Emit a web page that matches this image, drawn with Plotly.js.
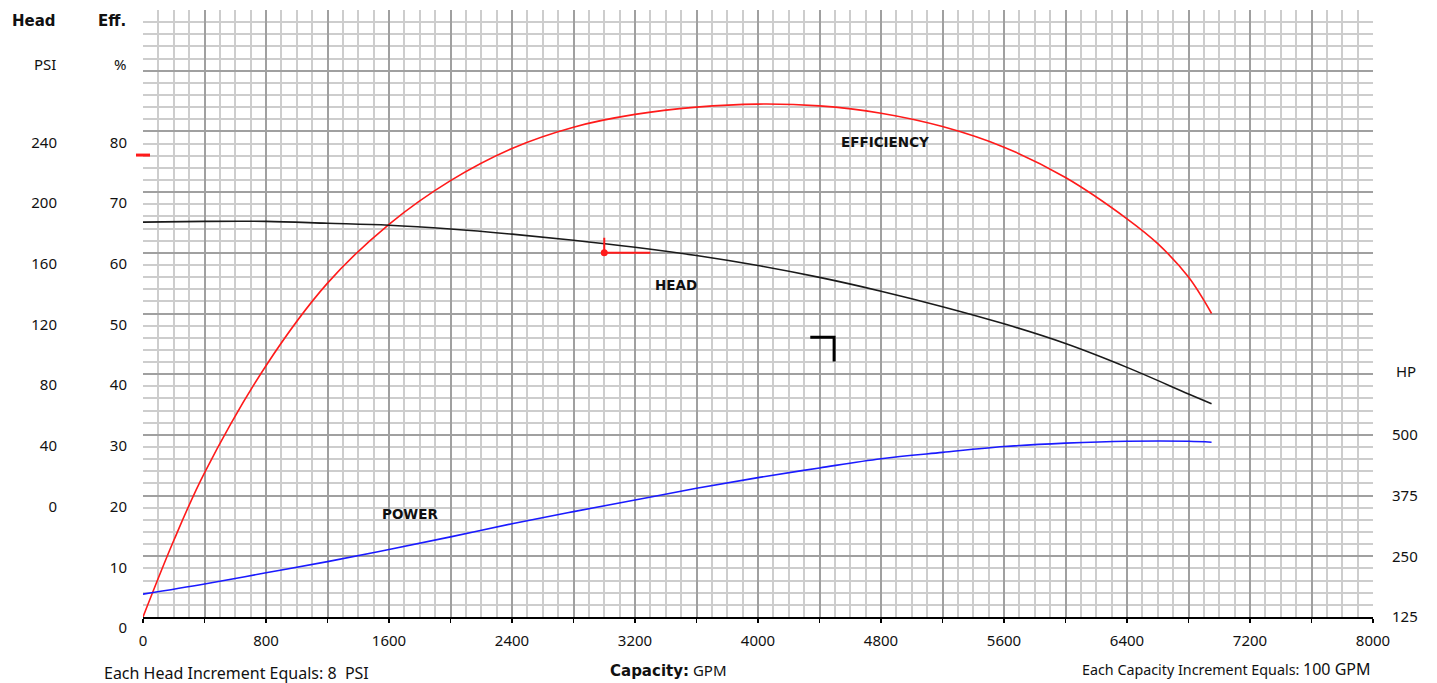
<!DOCTYPE html>
<html><head><meta charset="utf-8">
<script src="https://cdn.plot.ly/plotly-3.0.1.min.js"></script>
<style>html,body{margin:0;padding:0;background:#fff}#chart{width:1437px;height:683px}</style>
</head><body><div id="chart"></div>
<script>
// Efficiency curve (GPM, %)
const effCapacity = [0,200,400,800,1200,1600,2000,2400,2800,3200,3600,4000,4400,4800,5200,5600,6000,6400,6600,6800,6950];
const efficiency  = [0,12.6,23.75,41.4,55,64.7,71.9,77.2,80.7,82.8,84.0,84.5,84.2,83.0,80.8,77.4,72.4,65.6,61.5,56.0,50];
// Head and power curves (GPM, PSI / HP)
const curveCapacity = [0,400,800,1200,1600,2000,2400,2800,3200,3600,4000,4400,4800,5200,5600,6000,6400,6800,6950];
const headPsi  = [180.2,180.7,180.7,179.5,178.2,175.7,172.3,168.3,163.7,158.2,151.6,143.8,134.7,124.5,113.2,100.2,84.5,67,60.5];
const powerHp  = [172,193,216,239,264,290,317,342,366,390,412,432,451,464,476,483,487,487,485];
// Duty point (GPM, PSI) with tolerance lines
const dutyPointGpm = [3000];
const dutyPointPsi = [160];
const dutyLineGpm  = [3300,3000,3000];
const dutyLinePsi  = [160,160,170];
// Black corner mark (GPM, %)
const cornerGpm = [4340,4495,4495];
const cornerEff = [46.1,46.1,42.1];
// Red mark on efficiency scale (%)
const effMark = 76.1;

// Tick values / labels
const capTickVals = [0,400,800,1200,1600,2000,2400,2800,3200,3600,4000,4400,4800,5200,5600,6000,6400,6800,7200,7600,8000];
const capTickText = ['0','','800','','1600','','2400','','3200','','4000','','4800','','5600','','6400','','7200','','8000'];
const effTickVals = [0,10,20,30,40,50,60,70,80,90,100];
const effTickText = ['0','10','20','30','40','50','60','70','80','',''];
const headTickVals = [0,40,80,120,160,200,240];
const headTickText = ['0','40','80','120','160','200','240'];
const hpTickVals = [125,250,375,500];
const hpTickText = ['125','250','375','500'];

const FONT = 'Noto Sans, Open Sans, sans-serif';
const BOLD = 'DejaVu Sans, Verdana, sans-serif';
const INK = '#111';
const tickFont = {family: FONT, size: 15, color: INK};

const traces = [
  {x: effCapacity, y: efficiency, yaxis: 'y', mode: 'lines', line: {color: '#ff1a1a', width: 1.6, shape: 'spline', smoothing: 1}},
  {x: curveCapacity, y: headPsi, yaxis: 'y2', mode: 'lines', line: {color: '#1a1a1a', width: 1.6, shape: 'spline', smoothing: 1}},
  {x: curveCapacity, y: powerHp, yaxis: 'y3', mode: 'lines', line: {color: '#1a1aff', width: 1.6, shape: 'spline', smoothing: 1}},
  {x: dutyLineGpm, y: dutyLinePsi, yaxis: 'y2', mode: 'lines', line: {color: '#ff1a1a', width: 2}},
  {x: dutyPointGpm, y: dutyPointPsi, yaxis: 'y2', mode: 'markers', marker: {color: '#ff1a1a', size: 7}},
  {x: cornerGpm, y: cornerEff, yaxis: 'y', mode: 'lines', line: {color: '#000', width: 3}}
];

const L = 143, W = 1230, T = 10, H = 607;
const px = v => (v - L) / W;
const py = v => (T + H - v) / H;

const layout = {
  width: 1437, height: 683,
  margin: {l: 143, r: 64, t: 10, b: 66},
  paper_bgcolor: '#fff', plot_bgcolor: '#fff',
  showlegend: false,
  font: {family: FONT, size: 15, color: INK},
  xaxis: {
    range: [0, 8000], tickmode: 'array', tickvals: capTickVals, ticktext: capTickText,
    showgrid: true, gridcolor: '#a0a0a0', gridwidth: 2,
    minor: {tickmode: 'linear', tick0: 0, dtick: 100, showgrid: true, gridcolor: '#cdcdcd', gridwidth: 2, ticks: ''},
    ticks: 'outside', ticklen: 4, tickwidth: 1.5, tickcolor: '#000',
    showline: true, linecolor: '#000', linewidth: 2, zeroline: false,
    ticklabelstandoff: 5,
    tickfont: tickFont, fixedrange: true
  },
  yaxis: {
    range: [0, 100], tickmode: 'array', tickvals: effTickVals, ticktext: effTickText,
    showgrid: true, gridcolor: '#a0a0a0', gridwidth: 2,
    minor: {tickmode: 'linear', tick0: 0, dtick: 2, showgrid: true, gridcolor: '#cdcdcd', gridwidth: 2, ticks: ''},
    ticks: '', showline: false, zeroline: false,
    ticklabelshift: 11, ticklabelstandoff: 15,
    tickfont: tickFont, fixedrange: true
  },
  yaxis2: {
    overlaying: 'y', side: 'left', anchor: 'free', position: 0,
    range: [-80, 320], tickmode: 'array', tickvals: headTickVals, ticktext: headTickText,
    showgrid: false, zeroline: false, showline: false, ticks: '',
    ticklabelshift: 11, ticklabelstandoff: 86,
    tickfont: tickFont, fixedrange: true
  },
  yaxis3: {
    overlaying: 'y', side: 'right', anchor: 'x',
    range: [125, 1375], tickmode: 'array', tickvals: hpTickVals, ticktext: hpTickText,
    showgrid: false, zeroline: false, showline: false, ticks: '',
    ticklabelstandoff: 18,
    tickfont: tickFont, fixedrange: true
  },
  shapes: [
    {type: 'line', xref: 'paper', yref: 'y', x0: -0.0057, x1: 0.0057, y0: effMark, y1: effMark, line: {color: '#ff1a1a', width: 3}}
  ],
  annotations: [
    {xref: 'x', yref: 'y', x: 4827, y: 78.25, text: '<b>EFFICIENCY</b>', showarrow: false, font: {family: BOLD, size: 13.5, color: INK}},
    {xref: 'x', yref: 'y', x: 3468, y: 54.7, text: '<b>HEAD</b>', showarrow: false, font: {family: BOLD, size: 13.5, color: INK}},
    {xref: 'x', yref: 'y', x: 1737, y: 17, text: '<b>POWER</b>', showarrow: false, font: {family: BOLD, size: 13.5, color: INK}},
    {xref: 'paper', yref: 'paper', x: px(58), y: py(21), xanchor: 'right', yanchor: 'middle', text: '<b>Head</b>', showarrow: false, font: {family: BOLD, size: 15, color: INK}},
    {xref: 'paper', yref: 'paper', x: px(128), y: py(21), xanchor: 'right', yanchor: 'middle', text: '<b>Eff.</b>', showarrow: false, font: {family: BOLD, size: 15, color: INK}},
    {xref: 'paper', yref: 'paper', x: px(58), y: py(64), xanchor: 'right', yanchor: 'middle', text: 'PSI', showarrow: false, font: {family: FONT, size: 15, color: INK}},
    {xref: 'paper', yref: 'paper', x: px(128), y: py(64), xanchor: 'right', yanchor: 'middle', text: '%', showarrow: false, font: {family: FONT, size: 15, color: INK}},
    {xref: 'paper', yref: 'paper', x: px(1394), y: py(371), xanchor: 'left', yanchor: 'middle', text: 'HP', showarrow: false, font: {family: FONT, size: 15, color: INK}},
    {xref: 'paper', yref: 'paper', x: px(102), y: py(673), xanchor: 'left', yanchor: 'middle', text: 'Each Head Increment Equals: 8&nbsp;&nbsp;PSI', showarrow: false, font: {family: FONT, size: 16, color: INK}},
    {xref: 'paper', yref: 'paper', x: px(668), y: py(670), xanchor: 'center', yanchor: 'middle', text: '<b><span style="font-family:DejaVu Sans">Capacity:</span></b> GPM', showarrow: false, font: {family: FONT, size: 15, color: INK}},
    {xref: 'paper', yref: 'paper', x: px(1373), y: py(669), xanchor: 'right', yanchor: 'middle', text: 'Each Capacity Increment Equals: <span style="font-size:16px">100 GPM</span>', showarrow: false, font: {family: FONT, size: 14.3, color: INK}}
  ]
};

Plotly.newPlot('chart', traces, layout, {staticPlot: true, displayModeBar: false});
</script>
</body></html>
